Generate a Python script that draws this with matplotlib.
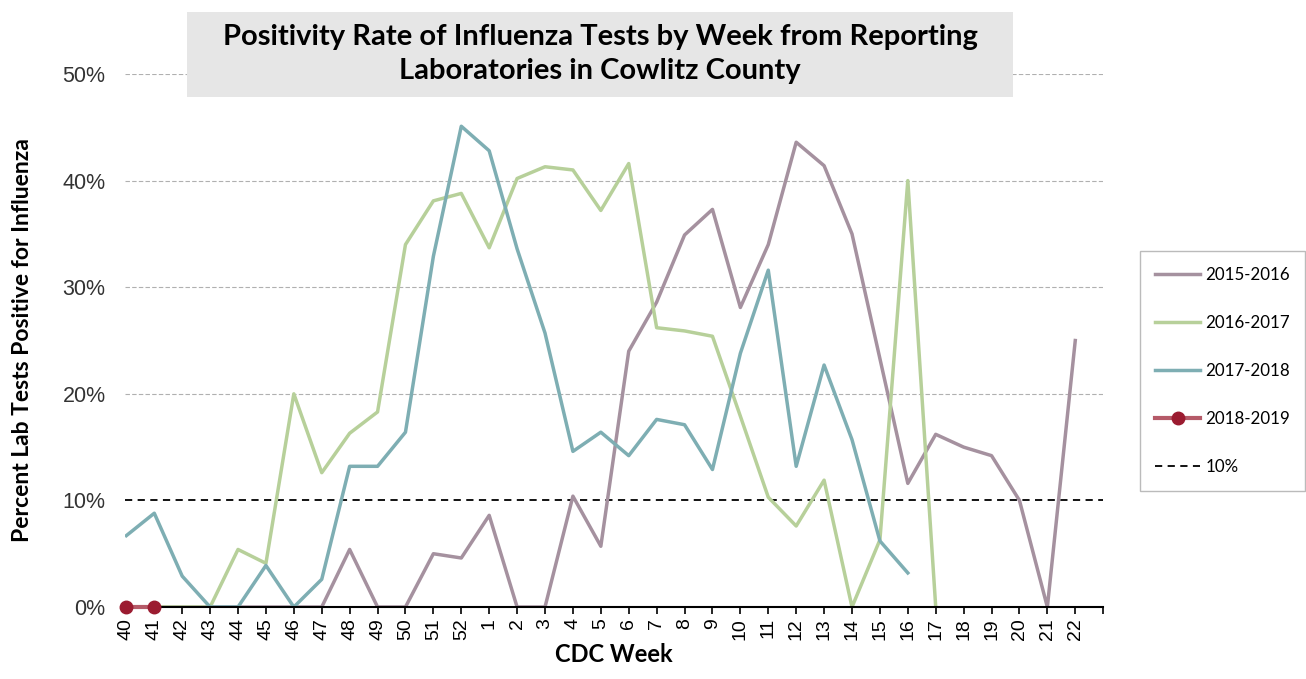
import matplotlib
matplotlib.use("Agg")
import matplotlib.pyplot as plt
from matplotlib.patches import Rectangle
import numpy as np

weeks = [str(w) for w in list(range(40, 53)) + list(range(1, 23))]

s2015 = [0, 0, 0, 0, 0, 0, 0, 0, 5.4, 0, 0, 5.0, 4.6, 8.6, 0, 0, 10.4, 5.7,
         24.0, 28.6, 34.9, 37.3, 28.1, 34.0, 43.6, 41.4, 35.0, 23.3, 11.6,
         16.2, 15.0, 14.2, 10.0, 0, 25.0]
s2016 = [0, 0, 0, 0, 5.4, 4.1, 20.0, 12.6, 16.3, 18.3, 34.0, 38.1, 38.8, 33.7,
         40.2, 41.3, 41.0, 37.2, 41.6, 26.2, 25.9, 25.4, 17.9, 10.3, 7.6,
         11.9, 0, 6.3, 40.0, 0]
s2017 = [6.7, 8.8, 2.9, 0, 0, 3.9, 0, 2.6, 13.2, 13.2, 16.4, 32.9, 45.1, 42.8,
         33.6, 25.7, 14.6, 16.4, 14.2, 17.6, 17.1, 12.9, 23.8, 31.6, 13.2,
         22.7, 15.7, 6.2, 3.2]
s2018 = [0, 0]

threshold = 10
labels = ["2015-2016", "2016-2017", "2017-2018", "2018-2019", "10%"]

fig = plt.figure(figsize=(13.06, 6.79), dpi=100)
ax = fig.add_axes([0.0957, 0.106, 0.749, 0.785])

c15, c16, c17, c18 = "#a5919f", "#b7d09a", "#7eaeb3", "#9b1b30"
lw = 2.5
ax.plot(range(len(s2015)), s2015, color=c15, lw=lw, label=labels[0], zorder=3)
ax.plot(range(len(s2016)), s2016, color=c16, lw=lw, label=labels[1], zorder=3)
ax.plot(range(len(s2017)), s2017, color=c17, lw=lw, label=labels[2], zorder=3)
ax.plot(range(len(s2018)), s2018, color="#b55a68", lw=3, marker="o", ms=9,
        mfc=c18, mec=c18, label=labels[3], zorder=5, clip_on=False)
ax.axhline(threshold, color="black", lw=1.3, ls=(0, (4, 3)), label=labels[4], zorder=2)

ax.set_ylim(0, 50)
ax.set_xlim(-0.05, 35)
ax.set_yticks(range(0, 51, 10))
ax.set_yticklabels([f"{v}%" for v in range(0, 51, 10)], fontsize=15.5,
                   family="Liberation Sans", color="#333333")
for v in range(20, 51, 10):
    ax.axhline(v, color="#b0b0b0", lw=0.8, ls=(0, (4, 2)), zorder=1)
ax.set_xticks(range(0, 36))
ax.set_xticklabels(weeks + [""], rotation=90, fontsize=14,
                   family="Liberation Sans")
ax.tick_params(axis="y", length=0, pad=14)
ax.tick_params(axis="x", length=5, width=1.2, direction="out", pad=3)
for sp in ["top", "right", "left"]:
    ax.spines[sp].set_visible(False)
ax.spines["bottom"].set_linewidth(1.5)
ax.spines["bottom"].set_zorder(4)

ax.set_xlabel("CDC Week", fontsize=17, fontweight="bold", family="Lato", labelpad=2)
ax.set_ylabel("Percent Lab Tests Positive for Influenza", fontsize=16.5,
              fontweight="bold", family="Lato")
ax.yaxis.set_label_coords(-0.094, 0.5)

# title box
fig.patches.append(Rectangle((187 / 1306, 1 - 97 / 679), (1013 - 187) / 1306, 85 / 679,
                             transform=fig.transFigure, facecolor="#e6e6e6",
                             edgecolor="none", zorder=0))
fig.text(600 / 1306, 1 - 54 / 679,
         "Positivity Rate of Influenza Tests by Week from Reporting\nLaboratories in Cowlitz County",
         ha="center", va="center", fontsize=21, fontweight="bold", family="Lato",
         linespacing=1.42)

leg = ax.legend(loc="center left", bbox_to_anchor=(1140 / 1306, 1 - 371 / 679),
                bbox_transform=fig.transFigure, frameon=True, fancybox=False,
                labelspacing=1.9, handlelength=2.65, handletextpad=0.3,
                borderpad=0.9, borderaxespad=0,
                prop={"family": "Lato", "size": 12.2})
leg.get_frame().set_edgecolor("#aaaaaa")
leg.get_frame().set_linewidth(1)

fig.savefig("out.png", dpi=100)
